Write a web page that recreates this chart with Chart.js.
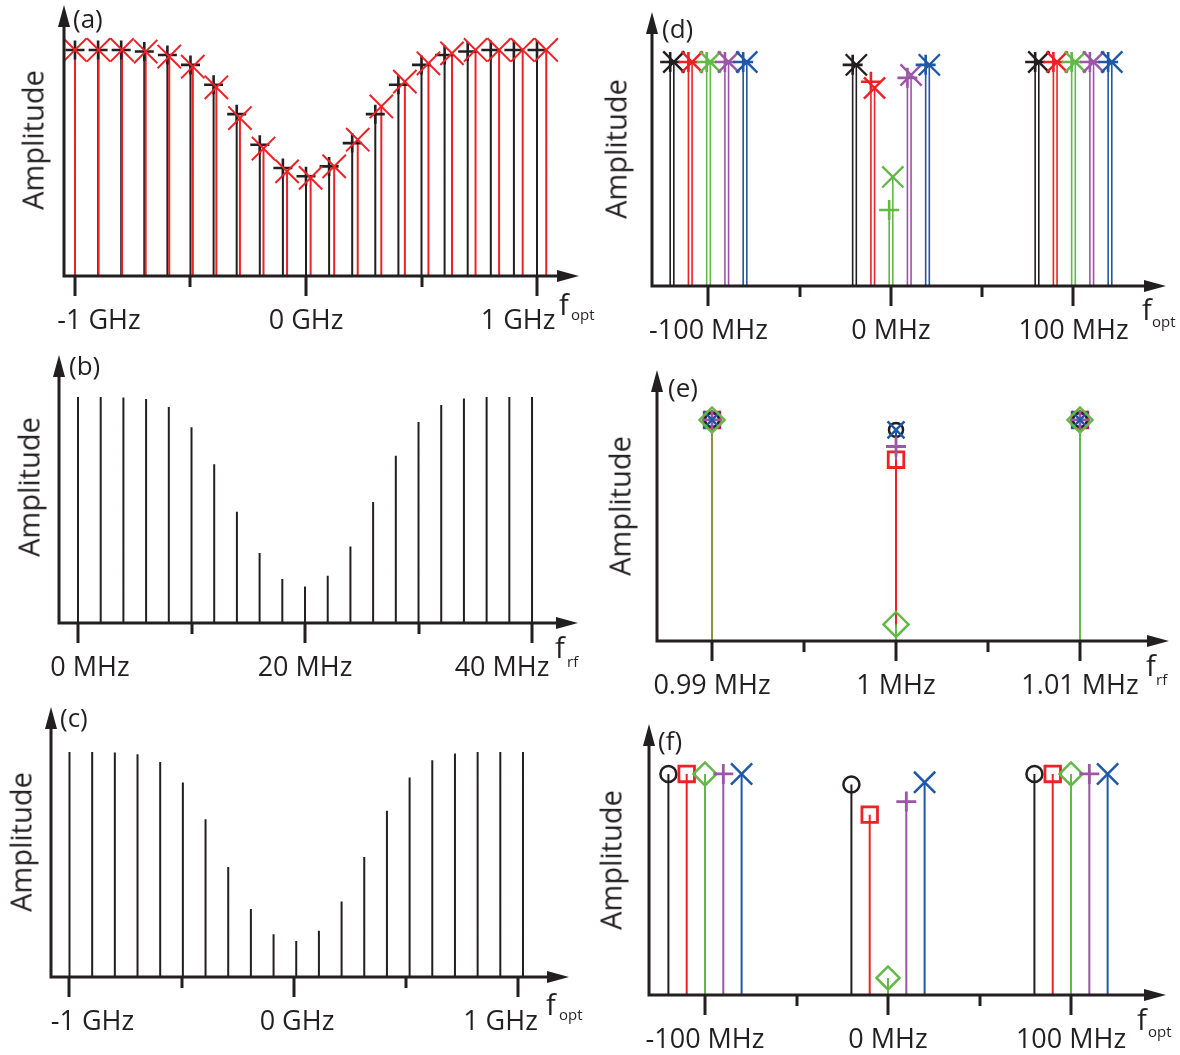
<!DOCTYPE html>
<html>
<head>
<meta charset="utf-8">
<script src="https://cdn.jsdelivr.net/npm/chart.js@4.4.1/dist/chart.umd.min.js"></script>
<style>
  body { margin: 0; background: #fff; }
  #fig { position: relative; width: 1180px; height: 1055px; overflow: hidden; font-family: 'Open Sans', sans-serif; color: #231f20; }
  #fig canvas { position: absolute; }
  .t { position: absolute; line-height: 1; white-space: nowrap; }
  .amp { font-size: 29px; transform: translate(-50%, -50%) rotate(-90deg); }
</style>
</head>
<body>
<div id="fig"></div>
<script>
// ---- (a) optical comb, GHz ----
const aFreqBlack = [-1.0, -0.9, -0.8, -0.7, -0.6, -0.5, -0.4, -0.3, -0.2, -0.1, 0, 0.1, 0.2, 0.3, 0.4, 0.5, 0.6, 0.7, 0.8, 0.9, 1.0];
const aAmpBlack = [1, 1, 1, 0.993, 0.978, 0.934, 0.846, 0.716, 0.581, 0.478, 0.441, 0.485, 0.588, 0.716, 0.846, 0.934, 0.978, 0.993, 1, 1, 1];
const aFreqRed = [-1.0, -0.898, -0.796, -0.694, -0.592, -0.49, -0.388, -0.286, -0.184, -0.082, 0.02, 0.122, 0.224, 0.326, 0.428, 0.53, 0.632, 0.734, 0.836, 0.938, 1.04];
const aAmpRed = [1, 1, 1, 0.993, 0.971, 0.926, 0.835, 0.699, 0.564, 0.463, 0.434, 0.485, 0.603, 0.75, 0.86, 0.941, 0.985, 1, 1, 1, 1];
const aTickLabels = ['-1 GHz', '0 GHz', '1 GHz'];

// ---- (b) rf spectrum, MHz ----
const bFreq = [0, 2, 4, 6, 8, 10, 12, 14, 16, 18, 20, 22, 24, 26, 28, 30, 32, 34, 36, 38, 40];
const bAmp = [1, 1, 0.998, 0.991, 0.956, 0.866, 0.703, 0.492, 0.31, 0.195, 0.162, 0.209, 0.339, 0.535, 0.74, 0.889, 0.965, 0.993, 1, 1, 1];
const bTickLabels = ['0 MHz', '20 MHz', '40 MHz'];

// ---- (c) optical comb, GHz ----
const cFreq = [-1.0, -0.899, -0.798, -0.697, -0.596, -0.495, -0.394, -0.293, -0.192, -0.091, 0.01, 0.111, 0.212, 0.313, 0.414, 0.515, 0.616, 0.717, 0.818, 0.919, 1.02];
const cAmp = [1, 1, 0.998, 0.99, 0.956, 0.864, 0.701, 0.489, 0.302, 0.19, 0.16, 0.206, 0.336, 0.533, 0.739, 0.887, 0.963, 0.993, 1, 1, 1];
const cTickLabels = ['-1 GHz', '0 GHz', '1 GHz'];

// series order for (d), (e), (f): black, red, green, purple, blue
const seriesColors = ['#231f20', '#ec2227', '#62b946', '#9b57a5', '#1f58a7'];

// ---- (d) MHz, '+' and 'x' lines per series ----
const dPlusFreq = [[-121, -21, 79], [-111, -11, 89], [-101, -1, 99], [-91, 9, 109], [-81, 19, 119]];
const dPlusAmp = [[1, 0.987, 1], [1, 0.912, 1], [1, 0.339, 1], [1, 0.929, 1], [1, 0.987, 1]];
const dCrossFreq = [[-119, -19, 81], [-109, -9, 91], [-99, 1, 101], [-89, 11, 111], [-79, 21, 121]];
const dCrossAmp = [[1, 0.987, 1], [1, 0.884, 1], [1, 0.487, 1], [1, 0.942, 1], [1, 0.987, 1]];
const dTickLabels = ['-100 MHz', '0 MHz', '100 MHz'];

// ---- (e) MHz ----
const eFreq = [0.99, 1.0, 1.01];
const eAmp = [[1, 0.955, 1], [1, 0.82, 1], [1, 0.075, 1], [1, 0.88, 1], [1, 0.955, 1]];
const eTickLabels = ['0.99 MHz', '1 MHz', '1.01 MHz'];

// ---- (f) MHz ----
const fFreq = [[-120, -20, 80], [-110, -10, 90], [-100, 0, 100], [-90, 10, 110], [-80, 20, 120]];
const fAmp = [[1, 0.952, 1], [1, 0.816, 1], [1, 0.077, 1], [1, 0.875, 1], [1, 0.962, 1]];
const fTickLabels = ['-100 MHz', '0 MHz', '100 MHz'];

const INK = '#231f20';
const markerStyles = [
  { style: 'circle', r: 8, w: 2.5 },
  { style: 'rect', r: 11, w: 2.8 },
  { style: 'rectRot', r: 11.5, w: 2.5 },
  { style: 'cross', r: 10, w: 2.8 },
  { style: 'crossRot', r: 15, w: 2.5 }
];
// marker radii used in (e): circle, square, diamond, plus, x
const eRadii = [7, 11, 12.5, 10, 12];

// vertical line from 0 to value for every point, gaps between
function stems(xs, ys, color, width) {
  const pts = [];
  xs.forEach((x, i) => pts.push({ x: x, y: 0 }, { x: x, y: ys[i] }, { x: x, y: null }));
  return { data: pts, borderColor: color, borderWidth: width || 2, pointRadius: 0, spanGaps: false, tension: 0 };
}

function marks(xs, ys, color, style, r, w) {
  return {
    data: xs.map((x, i) => ({ x: x, y: ys[i] })),
    showLine: false, pointStyle: style, pointRadius: r, pointBorderWidth: w,
    pointBorderColor: color, pointBackgroundColor: 'rgba(0,0,0,0)'
  };
}

const axesPlugin = {
  id: 'axes',
  afterDraw(chart, args, opts) {
    const { ctx, chartArea: a } = chart;
    const x = chart.scales.x;
    ctx.save();
    ctx.strokeStyle = INK;
    ctx.fillStyle = INK;
    ctx.lineWidth = 3;
    ctx.beginPath();
    ctx.moveTo(a.left, a.top + 15);
    ctx.lineTo(a.left, a.bottom);
    ctx.lineTo(a.right - 15, a.bottom);
    ctx.stroke();
    // arrow heads
    ctx.beginPath();
    ctx.moveTo(a.left, a.top);
    ctx.lineTo(a.left - 6, a.top + 22);
    ctx.lineTo(a.left + 6, a.top + 22);
    ctx.closePath();
    ctx.fill();
    ctx.beginPath();
    ctx.moveTo(a.right, a.bottom);
    ctx.lineTo(a.right - 22, a.bottom - 6);
    ctx.lineTo(a.right - 22, a.bottom + 6);
    ctx.closePath();
    ctx.fill();
    // ticks
    opts.major.forEach(v => {
      const px = Math.round(x.getPixelForValue(v));
      ctx.beginPath(); ctx.moveTo(px, a.bottom); ctx.lineTo(px, a.bottom + 20); ctx.stroke();
    });
    opts.minor.forEach(v => {
      const px = Math.round(x.getPixelForValue(v));
      ctx.beginPath(); ctx.moveTo(px, a.bottom); ctx.lineTo(px, a.bottom + 11); ctx.stroke();
    });
    // tick labels
    ctx.font = '27px "Open Sans"';
    ctx.textAlign = 'center';
    ctx.textBaseline = 'alphabetic';
    opts.labels.forEach((t, i) => {
      ctx.fillText(t, x.getPixelForValue(opts.major[i]) + opts.shift[i], a.bottom + 53);
    });
    ctx.restore();
  }
};

function panelA() {
  return [
    stems(aFreqBlack, aAmpBlack, INK, 2),
    stems(aFreqRed, aAmpRed, '#ec2227', 2),
    marks(aFreqBlack, aAmpBlack, INK, 'cross', 9.5, 2.6),
    marks(aFreqRed, aAmpRed, '#ec2227', 'crossRot', 16.5, 2)
  ];
}

function panelD() {
  const ds = [];
  seriesColors.forEach((c, s) => {
    ds.push(stems(dPlusFreq[s], dPlusAmp[s], c, 1.6));
    ds.push(stems(dCrossFreq[s], dCrossAmp[s], c, 1.6));
  });
  seriesColors.forEach((c, s) => {
    ds.push(marks(dPlusFreq[s], dPlusAmp[s], c, 'cross', 10, 2.6));
    ds.push(marks(dCrossFreq[s], dCrossAmp[s], c, 'crossRot', 15, 2.4));
  });
  return ds;
}

function panelE() {
  const ds = [];
  // stems, bottom to top: black, blue, purple, red, green
  [0, 4, 3, 1, 2].forEach(s => ds.push(stems(eFreq, eAmp[s], seriesColors[s], 2)));
  ds[4].segment = { borderColor: c => (c.p0.parsed.x < 0.995 ? '#8b9440' : undefined) };
  [1, 0, 3, 4, 2].forEach(s => {
    const m = markerStyles[s];
    ds.push(marks(eFreq, eAmp[s], seriesColors[s], m.style, eRadii[s], m.w));
  });
  return ds;
}

function panelF() {
  const ds = [];
  seriesColors.forEach((c, s) => ds.push(stems(fFreq[s], fAmp[s], c, 2)));
  seriesColors.forEach((c, s) => {
    const m = markerStyles[s];
    ds.push(marks(fFreq[s], fAmp[s], c, m.style, m.r, m.w));
  });
  return ds;
}

const panels = [
  { letter: 'a', canvas: [0, 0, 600, 345], area: [64, 5, 579, 276], xr: [-1.0476, 1.1818], ymax: 1.199,
    major: [-1, 0, 1], minor: [-0.5, 0.5], labels: aTickLabels, shift: [24, 0, -19],
    amp: [32, 140], lt: [73, 5], f: ['opt', 559, 315, 571, 320], build: panelA },
  { letter: 'b', canvas: [0, 345, 600, 355], area: [59, 355, 578, 623], xr: [-1.674, 44.05], ymax: 1.186,
    major: [0, 20, 40], minor: [10, 30], labels: bTickLabels, shift: [12, 0, -30],
    amp: [28, 487], lt: [69, 352], f: ['rf', 555, 658, 567, 667],
    build: () => [stems(bFreq, bAmp, INK, 2)] },
  { letter: 'c', canvas: [0, 700, 600, 355], area: [51, 707, 569, 977], xr: [-1.0824, 1.225], ymax: 1.2,
    major: [-1, 0, 1], minor: [-0.5, 0.5], labels: cTickLabels, shift: [23, 3, -18],
    amp: [20, 842], lt: [60, 704], f: ['opt', 546, 1015, 559, 1020],
    build: () => [stems(cFreq, cAmp, INK, 2)] },
  { letter: 'd', canvas: [590, 0, 590, 345], area: [652, 12, 1166, 286], xr: [-130.96, 150.7], ymax: 1.223,
    major: [-100, 0, 100], minor: [-50, 50], labels: dTickLabels, shift: [0, 0, 0],
    amp: [615, 149], lt: [662, 15], f: ['opt', 1142, 320, 1152, 327], build: panelD },
  { letter: 'e', canvas: [590, 355, 590, 345], area: [657, 370, 1169, 641], xr: [0.98701, 1.014837], ymax: 1.226,
    major: [0.99, 1.0, 1.01], minor: [0.995, 1.005], labels: eTickLabels, shift: [0, 0, 0],
    amp: [619, 506], lt: [668, 374], f: ['rf', 1146, 676, 1156, 685], build: panelE },
  { letter: 'f', canvas: [590, 705, 590, 350], area: [649, 724, 1166, 995], xr: [-130.6, 151.9], ymax: 1.226,
    major: [-100, 0, 100], minor: [-50, 50], labels: fTickLabels, shift: [0, 0, 0],
    amp: [610, 860], lt: [658, 727], f: ['opt', 1137, 1030, 1148, 1037], build: panelF }
];

const fig = document.getElementById('fig');

function addText(html, cls, left, top, size) {
  const el = document.createElement('div');
  el.className = 't ' + cls;
  el.style.left = left + 'px';
  el.style.top = top + 'px';
  if (size) el.style.fontSize = size + 'px';
  el.innerHTML = html;
  fig.appendChild(el);
}

panels.forEach(p => {
  const [cl, ct, cw, ch] = p.canvas;
  const [al, at, ar, ab] = p.area;
  const cv = document.createElement('canvas');
  cv.width = cw;
  cv.height = ch;
  cv.style.left = cl + 'px';
  cv.style.top = ct + 'px';
  fig.appendChild(cv);

  const datasets = p.build();
  datasets.forEach((d, i) => { d.order = datasets.length - i; d.clip = false; });

  new Chart(cv.getContext('2d'), {
    type: 'line',
    data: { datasets: datasets },
    options: {
      responsive: false,
      animation: false,
      events: [],
      layout: { autoPadding: false, padding: { left: al - cl, top: at - ct, right: cl + cw - ar, bottom: ct + ch - ab } },
      scales: {
        x: { type: 'linear', min: p.xr[0], max: p.xr[1], display: false },
        y: { type: 'linear', min: 0, max: p.ymax, display: false }
      },
      plugins: {
        legend: { display: false },
        tooltip: { enabled: false },
        axes: { major: p.major, minor: p.minor, labels: p.labels, shift: p.shift }
      }
    },
    plugins: [axesPlugin]
  });

  // text around the axes
  addText('Amplitude', 'amp', p.amp[0], p.amp[1]);
  addText('(' + p.letter + ')', '', p.lt[0], p.lt[1], 26);
  addText('f', '', p.f[1], p.f[2] - 0.888 * 29, 29);
  addText(p.f[0], '', p.f[3], p.f[4] - 0.888 * 15, 15);
});
</script>
</body>
</html>
